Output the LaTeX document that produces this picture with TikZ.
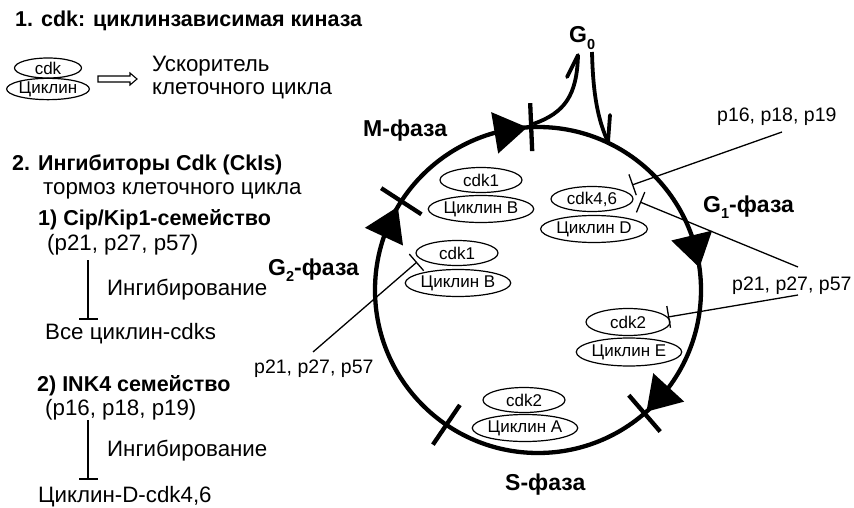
\documentclass[tikz,border=0pt]{standalone}
\usepackage{fontspec}
\setmainfont{Liberation Sans}
\usetikzlibrary{shapes.geometric,arrows.meta}
\newcommand{\lowidx}[1]{\raisebox{-0.28em}{\fontsize{14.5}{14.5}\selectfont #1}}
\begin{document}
\begin{tikzpicture}[x=1pt,y=1pt,
  cyc/.style={line width=4.3pt},
  tickl/.style={line width=4.3pt},
  garrow/.style={line width=3.8pt},
  ell/.style={ellipse,draw,line width=1.2pt,inner sep=0pt,minimum width=82pt,minimum height=25pt,font=\fontsize{17}{19}\selectfont},
  txt/.style={anchor=base west,inner sep=0pt,font=\fontsize{22.3}{26}\selectfont},
  bld/.style={anchor=base west,inner sep=0pt,font=\bfseries\fontsize{21.5}{25}\selectfont},
  phase/.style={anchor=base west,inner sep=0pt,font=\bfseries\fontsize{23}{26}\selectfont},
  plab/.style={anchor=base west,inner sep=0pt,font=\fontsize{19.5}{22}\selectfont},
  inh/.style={line width=1.3pt,-{Bar[width=22pt,line width=1.3pt]}},
  inhl/.style={line width=1.6pt,-{Bar[width=19pt,line width=1.6pt]}},
]
\useasboundingbox (0,0) rectangle (854,-508);

% ---- legend part 1
\node[bld] (h1) at (15,-27) {1. cdk: циклинзависимая киназа};
\node[ell,minimum width=67pt,minimum height=20pt] (lcdk) at (48,-68) {cdk};
\node[ell,minimum width=67pt,minimum height=21pt] (lcyc) at (48,-89) {Циклин};
\draw[line width=1.1pt,line join=miter] (98,-76) -- (130,-76) -- (130,-73) -- (137,-79) -- (130,-85) -- (130,-82) -- (98,-82) -- cycle;
\node[txt] (acc1) at (152,-72) {Ускоритель};
\node[txt] (acc2) at (152,-95) {клеточного цикла};

% ---- legend part 2
\node[bld] (h2) at (12,-171) {2. Ингибиторы Cdk (CkIs)};
\node[txt] (brake) at (43,-194) {тормоз клеточного цикла};
\node[bld] (cip) at (38,-225) {1) Cip/Kip1-семейство};
\node[txt] (cipm) at (47,-250) {(p21, p27, p57)};
\coordinate (v1a) at (88,-260);
\coordinate (v1b) at (88,-320);
\draw[inhl] (v1a) -- (v1b);
\node[txt] (inh1) at (107,-295) {Ингибирование};
\node[txt] (allc) at (45,-339) {Все циклин-cdks};
\node[bld] (ink) at (37,-391) {2) INK4 семейство};
\node[txt] (inkm) at (45,-415) {(p16, p18, p19)};
\coordinate (v2a) at (88,-420);
\coordinate (v2b) at (88,-480);
\draw[inhl] (v2a) -- (v2b);
\node[txt] (inh2) at (107,-456) {Ингибирование};
\node[txt] (cycd) at (38,-502) {Циклин-D-cdk4,6};

% ---- cycle
\coordinate (C) at (538,-290);
\draw[cyc] (C) circle[radius=163];
\foreach \a in {92.4,147,235.8,310.8}
  \draw[tickl] ([shift={(\a:139)}]C) -- ([shift={(\a:187)}]C);
\foreach \a in {93.8,149.3,7.9,311.7}
  \fill[shift={(C)},rotate=\a] (163,0) -- (180.6,34.9) -- (138.8,30.7) -- cycle;

% G0 exits
\node[phase] (g0) at (569,-43) {G\lowidx{0}};
\coordinate (g0s) at (533,-124);
\coordinate (g0t) at (578,-55);
\coordinate (g0r) at (592,-52);
\coordinate (g0e) at (608,-142);
\draw[garrow] (g0s) .. controls (565,-113) and (577,-95) .. (g0t);
\draw[garrow,line cap=round] (g0t) -- (567,-77);
\draw[garrow] (g0r) .. controls (593,-95) and (598,-120) .. (g0e);
\draw[garrow,line cap=round] (g0e) -- (610,-115);

% phase labels
\node[phase] (mph) at (363,-137) {M-фаза};
\node[phase] (g1ph) at (703,-212) {G\lowidx{1}-фаза};
\node[phase] (g2ph) at (268,-275) {G\lowidx{2}-фаза};
\node[phase] (sph) at (505,-490) {S-фаза};

% complexes
\node[ell] (mcdk) at (481,-180) {cdk1};
\node[ell,minimum height=27pt] (mcyc) at (481,-209) {Циклин B};
\node[ell] (gcdk) at (457,-253) {cdk1};
\node[ell,minimum height=27pt] (gcyc) at (458,-283) {Циклин B};
\node[ell] (dcdk) at (592,-199) {cdk4,6};
\node[ell,minimum height=27pt] (dcyc) at (594,-229) {Циклин D};
\node[ell,minimum width=84pt,minimum height=27pt] (ecdk) at (628,-322) {cdk2};
\node[ell,minimum width=86pt,minimum height=28pt] (ecyc) at (629,-352) {Циклин E};
\node[ell] (acdk) at (524,-400) {cdk2};
\node[ell,minimum width=85pt,minimum height=27pt] (acyc) at (525,-428) {Циклин A};

% inhibitor labels and lines
\node[plab] (p16) at (717,-122) {p16, p18, p19};
\node[plab] (p21r) at (732,-290) {p21, p27, p57};
\node[plab] (p21l) at (254,-373) {p21, p27, p57};
\coordinate (i1a) at (782,-132);
\coordinate (i1b) at (632,-185);
\coordinate (i2a) at (798,-267);
\coordinate (i2b) at (640,-202);
\coordinate (i3a) at (798,-295);
\coordinate (i3b) at (668,-317);
\coordinate (i4a) at (313,-352);
\coordinate (i4b) at (417,-262);
\draw[inh] (i1a) -- (i1b);
\draw[inh] (i2a) -- (i2b);
\draw[inh] (i3a) -- (i3b);
\draw[inh] (i4a) -- (i4b);
\end{tikzpicture}
\end{document}
